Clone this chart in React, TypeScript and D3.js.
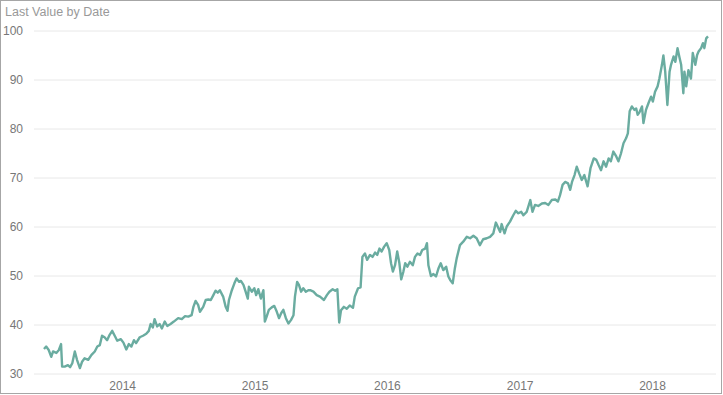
import * as d3 from "d3";

// Last value per date
const dates = [
  "2013-05-29", "2013-06-04", "2013-06-11", "2013-06-18", "2013-06-23", "2013-07-02", "2013-07-09", "2013-07-15",
  "2013-07-18", "2013-07-25", "2013-08-03", "2013-08-09", "2013-08-15", "2013-08-22", "2013-08-28", "2013-09-05",
  "2013-09-11", "2013-09-18", "2013-09-28", "2013-10-07", "2013-10-16", "2013-10-23", "2013-10-30", "2013-11-05",
  "2013-11-12", "2013-11-19", "2013-11-26", "2013-12-03", "2013-12-10", "2013-12-17", "2013-12-27",
  "2014-01-03", "2014-01-11", "2014-01-18", "2014-01-25", "2014-02-01", "2014-02-07", "2014-02-17", "2014-02-26",
  "2014-03-07", "2014-03-14", "2014-03-19", "2014-03-25", "2014-03-30", "2014-04-06", "2014-04-13", "2014-04-19",
  "2014-04-27", "2014-05-04", "2014-05-13", "2014-05-22", "2014-06-03", "2014-06-13", "2014-06-22", "2014-07-01",
  "2014-07-10", "2014-07-15", "2014-07-21", "2014-07-28", "2014-08-02", "2014-08-11", "2014-08-18", "2014-08-25",
  "2014-09-01", "2014-09-08", "2014-09-14", "2014-09-20", "2014-09-26", "2014-10-05", "2014-10-12", "2014-10-17",
  "2014-10-21", "2014-10-29", "2014-11-05", "2014-11-11", "2014-11-18", "2014-11-23", "2014-11-30", "2014-12-06",
  "2014-12-12", "2014-12-15", "2014-12-23", "2014-12-30",
  "2015-01-04", "2015-01-10", "2015-01-17", "2015-01-24", "2015-01-28", "2015-02-02", "2015-02-08", "2015-02-16",
  "2015-02-23", "2015-03-02", "2015-03-08", "2015-03-14", "2015-03-20", "2015-03-27", "2015-04-03", "2015-04-10",
  "2015-04-17", "2015-04-21", "2015-04-27", "2015-05-02", "2015-05-08", "2015-05-14", "2015-05-21", "2015-05-28",
  "2015-06-02", "2015-06-11", "2015-06-20", "2015-06-29", "2015-07-10", "2015-07-18", "2015-07-25", "2015-08-03",
  "2015-08-10", "2015-08-16", "2015-08-21", "2015-08-26", "2015-09-03", "2015-09-11", "2015-09-19", "2015-09-28",
  "2015-10-03", "2015-10-12", "2015-10-19", "2015-10-24", "2015-10-31", "2015-11-06", "2015-11-14", "2015-11-21",
  "2015-11-28", "2015-12-04", "2015-12-10", "2015-12-16", "2015-12-23", "2015-12-30",
  "2016-01-06", "2016-01-11", "2016-01-16", "2016-01-22", "2016-01-28", "2016-02-03", "2016-02-08", "2016-02-14",
  "2016-02-19", "2016-02-25", "2016-03-03", "2016-03-11", "2016-03-17", "2016-03-24", "2016-03-31", "2016-04-06",
  "2016-04-14", "2016-04-19", "2016-04-23", "2016-04-30", "2016-05-07", "2016-05-14", "2016-05-21", "2016-05-27",
  "2016-06-03", "2016-06-11", "2016-06-17", "2016-06-22", "2016-06-29", "2016-07-05", "2016-07-10", "2016-07-19",
  "2016-07-28", "2016-08-07", "2016-08-16", "2016-08-25", "2016-09-03", "2016-09-12", "2016-09-21", "2016-10-01",
  "2016-10-10", "2016-10-19", "2016-10-26", "2016-10-31", "2016-11-07", "2016-11-11", "2016-11-19", "2016-11-25",
  "2016-12-04", "2016-12-13", "2016-12-20", "2016-12-27",
  "2017-01-04", "2017-01-10", "2017-01-19", "2017-01-29", "2017-02-04", "2017-02-11", "2017-02-20", "2017-03-02",
  "2017-03-11", "2017-03-20", "2017-03-29", "2017-04-08", "2017-04-15", "2017-04-21", "2017-04-28", "2017-05-05",
  "2017-05-13", "2017-05-19", "2017-05-24", "2017-05-31", "2017-06-06", "2017-06-13", "2017-06-20", "2017-06-27",
  "2017-07-06", "2017-07-14", "2017-07-23", "2017-07-30", "2017-08-05", "2017-08-12", "2017-08-19", "2017-08-26",
  "2017-09-02", "2017-09-08", "2017-09-15", "2017-09-23", "2017-09-29", "2017-10-06", "2017-10-13", "2017-10-20",
  "2017-10-25", "2017-10-30", "2017-11-05", "2017-11-12", "2017-11-17", "2017-11-21", "2017-11-26", "2017-12-03",
  "2017-12-07", "2017-12-14", "2017-12-21", "2017-12-28",
  "2018-01-02", "2018-01-08", "2018-01-15", "2018-01-20", "2018-01-27", "2018-01-31", "2018-02-05", "2018-02-11",
  "2018-02-17", "2018-02-21", "2018-02-28", "2018-03-05", "2018-03-11", "2018-03-17", "2018-03-21", "2018-03-27",
  "2018-03-30", "2018-04-04", "2018-04-10", "2018-04-17", "2018-04-22", "2018-04-29", "2018-05-04", "2018-05-08",
  "2018-05-15", "2018-05-20", "2018-05-24", "2018-05-29", "2018-06-03",
];

const values = [
  35.1, 35.6, 34.9, 33.5, 34.6, 34.3, 34.9, 36.1,
  31.5, 31.5, 31.8, 31.4, 32.2, 34.6, 32.9, 31.2,
  32.5, 33.2, 32.9, 33.9, 34.6, 35.6, 35.9, 37.8,
  37.5, 36.9, 38.0, 38.8, 37.8, 36.8, 37.1,
  36.4, 35.0, 36.1, 35.6, 36.9, 36.3, 37.5, 37.8,
  38.2, 38.8, 40.2, 39.5, 41.2, 39.7, 40.2, 39.3,
  40.7, 39.8, 40.2, 40.7, 41.4, 41.2, 41.8, 41.7,
  42.0, 43.7, 44.9, 44.1, 42.7, 43.7, 45.1, 45.2,
  45.1, 46.1, 47.0, 46.6, 47.1, 45.8, 43.7, 42.9,
  45.1, 47.1, 48.5, 49.5, 48.8, 49.0, 48.2, 46.8,
  45.4, 47.8, 46.8, 47.5,
  46.1, 47.3, 45.4, 47.1, 40.7, 41.7, 43.1, 43.6,
  43.9, 42.7, 41.4, 42.4, 43.1, 41.4, 40.3, 41.0,
  42.0, 45.8, 48.8, 48.2, 46.8, 47.5, 46.8, 47.1,
  47.1, 46.8, 46.1, 45.8, 45.1, 46.1, 46.8, 47.3,
  47.0, 47.3, 40.5, 43.0, 43.7, 43.3, 44.0, 43.5,
  45.8, 47.5, 47.7, 53.9, 54.6, 53.3, 54.3, 53.9,
  54.8, 54.3, 55.6, 55.0, 56.0, 56.7,
  55.3, 52.6, 50.9, 52.2, 55.0, 52.6, 49.3, 50.9,
  52.6, 51.9, 52.9, 52.2, 53.9, 54.6, 54.3, 55.3,
  55.6, 56.7, 52.2, 50.0, 50.4, 49.9, 51.6, 52.6,
  51.2, 51.9, 49.9, 49.2, 48.5, 51.6, 53.6, 56.3,
  57.0, 58.0, 57.7, 58.2, 57.7, 56.3, 57.5, 57.7,
  58.0, 58.7, 60.9, 60.1, 59.0, 60.6, 58.7, 60.1,
  61.1, 62.4, 63.3, 62.8,
  63.1, 62.4, 63.1, 65.5, 63.1, 64.5, 64.3, 64.8,
  64.9, 64.5, 65.5, 65.6, 65.2, 66.5, 68.6, 69.2,
  68.9, 67.6, 69.2, 70.6, 72.3, 70.9, 69.6, 70.6,
  68.3, 72.0, 74.0, 73.7, 72.7, 71.6, 73.4, 72.3,
  74.0, 73.4, 75.4, 74.4, 73.4, 75.0, 77.1, 78.1,
  79.1, 83.6, 84.6, 83.9, 84.2, 82.9, 83.4, 84.6,
  81.2, 83.9, 85.3, 86.6,
  85.6, 87.6, 88.7, 90.3, 93.1, 95.0, 91.7, 84.9,
  91.7, 93.1, 94.8, 93.7, 96.5, 94.4, 93.1, 87.3,
  91.7, 88.7, 92.0, 90.3, 95.5, 93.1, 95.1, 95.8,
  96.5, 97.5, 96.5, 98.5, 98.9,
];

const yTicks = [30, 40, 50, 60, 70, 80, 90, 100];
const xTickYears = [2014, 2015, 2016, 2017, 2018];

const W = 723;
const H = 395;
const font = "'Segoe UI', 'Liberation Sans', Arial, sans-serif";

export default function App() {
  const parse = d3.timeParse("%Y-%m-%d");
  const data = dates.map((d, i) => ({ date: parse(d) as Date, value: values[i] }));

  const x = d3
    .scaleTime()
    .domain(d3.extent(data, d => d.date) as [Date, Date])
    .range([44, 708]);

  const y = d3.scaleLinear().domain([30, 100]).range([374, 31]);

  const line = d3
    .line<{ date: Date; value: number }>()
    .x(d => x(d.date))
    .y(d => y(d.value));

  return (
    <svg
      width={W}
      height={H}
      style={{ position: "absolute", left: 0, top: 0, background: "#fff" }}
    >
      <rect x={0.5} y={0.5} width={W - 2} height={H - 2} fill="#fff" stroke="#a6a6a6" />
      <text x={5} y={16} fontFamily={font} fontSize={12.5} fill="#999">
        Last Value by Date
      </text>

      {yTicks.map(t => (
        <g key={t}>
          <line x1={34} x2={716} y1={y(t)} y2={y(t)} stroke="#e8e8e8" strokeWidth={1} />
          <text
            x={23}
            y={y(t)}
            dy="0.35em"
            textAnchor="end"
            fontFamily={font}
            fontSize={12}
            fill="#777"
          >
            {t}
          </text>
        </g>
      ))}

      {xTickYears.map(yr => (
        <text
          key={yr}
          x={x(new Date(yr, 0, 1))}
          y={390}
          textAnchor="middle"
          fontFamily={font}
          fontSize={12}
          fill="#777"
        >
          {yr}
        </text>
      ))}

      <path
        d={line(data) ?? ""}
        fill="none"
        stroke="#6aaca0"
        strokeWidth={2.4}
        strokeLinejoin="round"
      />
    </svg>
  );
}
